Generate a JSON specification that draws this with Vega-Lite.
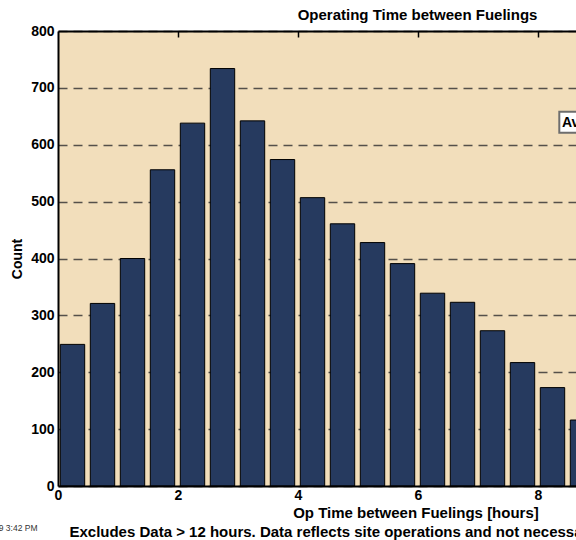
{
  "$schema": "https://vega.github.io/schema/vega-lite/v6.json",
  "width": 518,
  "height": 455,
  "autosize": {"type": "none"},
  "padding": {"left": 58, "top": 31, "right": 0, "bottom": 54},
  "background": "white",
  "config": {"font": "Liberation Sans", "view": {"fill": "#F2DEBB", "stroke": null}},
  "layer": [
    {
      "data": {"values": [
        {"start": 0, "end": 0.5, "count": 249},
        {"start": 0.5, "end": 1, "count": 321},
        {"start": 1, "end": 1.5, "count": 400},
        {"start": 1.5, "end": 2, "count": 556},
        {"start": 2, "end": 2.5, "count": 638},
        {"start": 2.5, "end": 3, "count": 734},
        {"start": 3, "end": 3.5, "count": 642},
        {"start": 3.5, "end": 4, "count": 574},
        {"start": 4, "end": 4.5, "count": 507},
        {"start": 4.5, "end": 5, "count": 461},
        {"start": 5, "end": 5.5, "count": 428},
        {"start": 5.5, "end": 6, "count": 391},
        {"start": 6, "end": 6.5, "count": 339},
        {"start": 6.5, "end": 7, "count": 323},
        {"start": 7, "end": 7.5, "count": 273},
        {"start": 7.5, "end": 8, "count": 217},
        {"start": 8, "end": 8.5, "count": 173},
        {"start": 8.5, "end": 9, "count": 116}
      ]},
      "mark": {"type": "bar", "fill": "#263A5F", "stroke": "#000000", "strokeWidth": 1, "xOffset": 2.3, "x2Offset": -3.3, "clip": true},
      "encoding": {
        "x": {
          "field": "start", "type": "quantitative",
          "scale": {"domain": [0, 8.6333], "nice": false, "zero": false},
          "axis": {
            "orient": "bottom", "values": [0, 2, 4, 6, 8], "format": "d",
            "labelFontSize": 14, "labelFontWeight": "bold", "labelColor": "black", "labelPadding": 2, "labelFlush": false,
            "ticks": false, "domainColor": "black", "domainWidth": 2, "grid": false, "zindex": 1,
            "title": ["Op Time between Fuelings [hours]", "Excludes Data > 12 hours. Data reflects site operations and not necessarily individual unit usage."],
            "titleFontSize": 15, "titleFontWeight": "bold", "titleColor": "black",
            "titleX": 357.5, "titleY": 31, "titleAlign": "center", "titleBaseline": "alphabetic", "titleLineHeight": 19
          }
        },
        "x2": {"field": "end"},
        "y": {
          "field": "count", "type": "quantitative",
          "scale": {"domain": [0, 800], "nice": false},
          "axis": {
            "orient": "left", "values": [0, 100, 200, 300, 400, 500, 600, 700, 800],
            "labelFontSize": 14, "labelFontWeight": "bold", "labelColor": "black", "labelPadding": 4, "labelFlush": false,
            "ticks": false, "domainColor": "black", "domainWidth": 2,
            "grid": true, "gridColor": "#55504a", "gridWidth": 1.5, "gridDash": [9, 6],
            "title": "Count", "titleFontSize": 14, "titleFontWeight": "bold", "titleColor": "black",
            "titleX": -40.5, "titleY": 227.5, "titleAngle": 270, "titleAlign": "center", "titleBaseline": "middle"
          }
        },
        "y2": {"datum": 0}
      }
    },
    {
      "data": {"values": [{"x1": 8.355, "x2": 10, "y1": 621, "y2": 658}]},
      "mark": {"type": "rect", "fill": "white", "stroke": "#6e6e6e", "strokeWidth": 2, "clip": true},
      "encoding": {
        "x": {
          "field": "x1", "type": "quantitative",
          "scale": {"domain": [0, 8.6333], "nice": false, "zero": false},
          "axis": {
            "orient": "top", "values": [2, 4, 6, 8], "labels": false,
            "ticks": true, "tickSize": -6, "tickColor": "black", "tickWidth": 1.5,
            "domainColor": "black", "domainWidth": 2, "grid": false, "zindex": 1,
            "title": "Operating Time between Fuelings", "titleFontSize": 15, "titleFontWeight": "bold", "titleColor": "black",
            "titleX": 359, "titleY": -12, "titleAlign": "center", "titleBaseline": "alphabetic"
          }
        },
        "x2": {"field": "x2"},
        "y": {
          "field": "y1", "type": "quantitative",
          "scale": {"domain": [0, 800], "nice": false},
          "axis": {
            "orient": "right", "labels": false, "ticks": false, "domain": false, "grid": false,
            "title": "10/26/2009 3:42 PM", "titleFontSize": 8.5, "titleFontWeight": "normal", "titleColor": "#333333",
            "titleAngle": 0, "titleX": -539, "titleY": 496, "titleAlign": "right", "titleBaseline": "middle"
          }
        },
        "y2": {"field": "y2"}
      }
    },
    {
      "data": {"values": [{"x": 8.4, "y": 639, "label": "Average = 3.9 hours"}]},
      "mark": {"type": "text", "align": "left", "baseline": "middle", "fontSize": 14, "fontWeight": "bold", "color": "black", "clip": true},
      "encoding": {
        "x": {"field": "x", "type": "quantitative", "scale": {"domain": [0, 8.6333], "nice": false, "zero": false}, "axis": null},
        "y": {"field": "y", "type": "quantitative", "scale": {"domain": [0, 800], "nice": false}, "axis": null},
        "text": {"field": "label"}
      }
    }
  ],
  "resolve": {"axis": {"x": "independent", "y": "independent"}}
}
